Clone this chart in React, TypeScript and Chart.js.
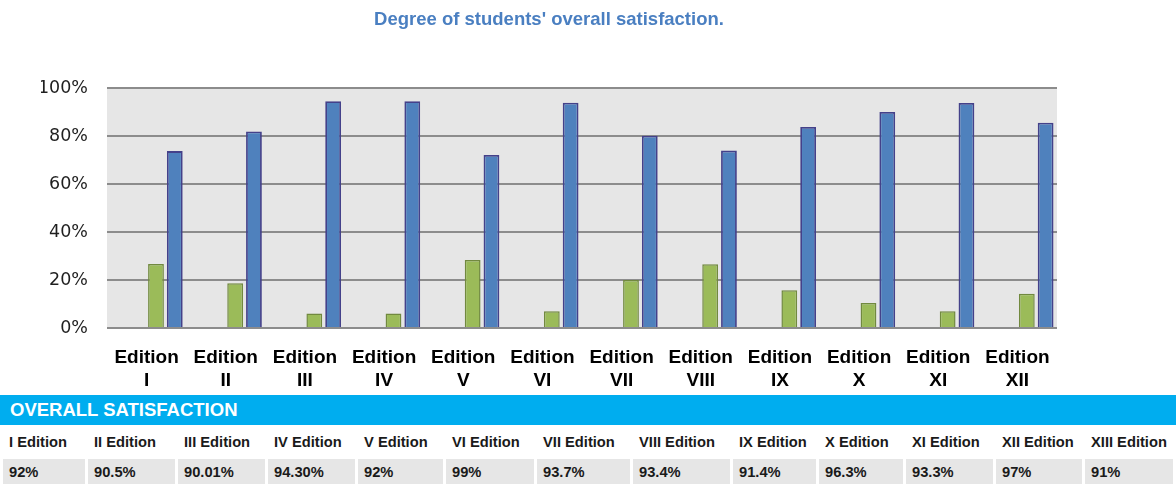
import React, { useEffect, useRef } from "react";
import { Chart, registerables } from "chart.js";

Chart.register(...registerables);

const chartTitle = "Degree of students' overall satisfaction.";
const editions = ["I", "II", "III", "IV", "V", "VI", "VII", "VIII", "IX", "X", "XI", "XII"];
const greenValues = [26.7, 18.7, 6, 6, 28.4, 7, 20, 26.6, 15.7, 10.4, 7, 14.3];
const blueValues = [73.8, 82, 94.6, 94.6, 72.2, 94, 80.2, 74, 83.9, 90.1, 93.9, 85.6];
const yMin = 0;
const yMax = 100;
const yStep = 20;

const tableTitle = "OVERALL SATISFACTION";
const tableEditions = [
  "I Edition", "II Edition", "III Edition", "IV Edition", "V Edition", "VI Edition",
  "VII Edition", "VIII Edition", "IX Edition", "X Edition", "XI Edition", "XII Edition", "XIII Edition",
];
const tableValues = ["92%", "90.5%", "90.01%", "94.30%", "92%", "99%", "93.7%", "93.4%", "91.4%", "96.3%", "93.3%", "97%", "91%"];
const tableColumnWidths = [85, 90, 90, 90, 88, 91, 96, 100, 86, 87, 90, 89, 91];

const plotBackground = {
  id: "plotBackground",
  beforeDraw(chart: any) {
    const { ctx, chartArea } = chart;
    if (!chartArea) return;
    ctx.save();
    ctx.fillStyle = "#e6e6e6";
    ctx.fillRect(chartArea.left, chartArea.top, chartArea.right - chartArea.left, chartArea.bottom - chartArea.top);
    ctx.restore();
  },
};

function BarChart() {
  const ref = useRef<HTMLCanvasElement | null>(null);
  useEffect(() => {
    if (!ref.current) return;
    const chart = new Chart(ref.current, {
      type: "bar",
      data: {
        labels: editions.map((e) => ["Edition", e]),
        datasets: [
          { label: "spacer1", data: [], backgroundColor: "transparent" },
          { label: "spacer2", data: [], backgroundColor: "transparent" },
          {
            label: "green",
            data: greenValues,
            backgroundColor: "#9bbb59",
            borderColor: "#71893f",
            borderWidth: 1.5,
          },
          {
            label: "blue",
            data: blueValues,
            backgroundColor: "#4f81bd",
            borderColor: "#44418a",
            borderWidth: 1.8,
          },
        ],
      },
      options: {
        responsive: false,
        animation: false,
        layout: { padding: { left: 41, right: 41, top: 0, bottom: 0 } },
        datasets: { bar: { categoryPercentage: 0.95, barPercentage: 0.84 } },
        plugins: {
          legend: { display: false },
          tooltip: { enabled: false },
          title: {
            display: true,
            text: chartTitle,
            color: "#4a7fc1",
            font: { family: "Liberation Sans", size: 18.5, weight: "bold", lineHeight: 1.2 },
            padding: { top: 9, bottom: 57.1 },
          },
        },
        scales: {
          x: {
            grid: { display: false, drawTicks: false },
            border: { display: false },
            ticks: {
              color: "#000",
              autoSkip: false,
              maxRotation: 0,
              padding: 18,
              font: { family: "Liberation Sans", size: 19, weight: "bold", lineHeight: 1.22 },
            },
            afterFit(s: any) {
              s.height = 64;
            },
          },
          y: {
            min: yMin,
            max: yMax,
            grid: { color: "#8c8c8c", lineWidth: 2, drawTicks: false },
            border: { display: false },
            ticks: {
              stepSize: yStep,
              color: "#1f1f1f",
              padding: 19,
              font: { family: "DejaVu Sans", size: 17.5 },
              callback: (v: any) => v + "%",
            },
            afterFit(s: any) {
              s.width = 66;
            },
          },
        },
      },
      plugins: [plotBackground],
    });
    return () => chart.destroy();
  }, []);
  return <canvas ref={ref} width={1098} height={392} style={{ position: "absolute", left: 0, top: 0 }} />;
}

export default function App() {
  const lefts: number[] = [];
  let acc = 3;
  for (const w of tableColumnWidths) {
    lefts.push(acc);
    acc += w;
  }
  const cellFont = { fontFamily: "Liberation Sans", fontWeight: "bold" as const, fontSize: 14.7 };
  return (
    <div style={{ position: "absolute", left: 0, top: 0, width: 1176, height: 484, background: "#fff", overflow: "hidden" }}>
      <BarChart />
      <div
        style={{
          position: "absolute",
          left: 0,
          top: 395,
          width: 1176,
          height: 29.5,
          background: "#00adef",
          color: "#fff",
          fontFamily: "Liberation Sans",
          fontWeight: "bold",
          fontSize: 18.5,
          lineHeight: "29.5px",
          paddingLeft: 10,
          boxSizing: "border-box",
        }}
      >
        {tableTitle}
      </div>
      {tableEditions.map((t, i) => (
        <div
          key={"h" + i}
          style={{
            position: "absolute",
            left: lefts[i],
            top: 429,
            width: tableColumnWidths[i] - 3,
            height: 26,
            lineHeight: "26px",
            paddingLeft: 6,
            boxSizing: "border-box",
            color: "#1a1a1a",
            whiteSpace: "nowrap",
            ...cellFont,
          }}
        >
          {t}
        </div>
      ))}
      {tableValues.map((t, i) => (
        <div
          key={"v" + i}
          style={{
            position: "absolute",
            left: lefts[i],
            top: 459,
            width: tableColumnWidths[i] - 3,
            height: 27,
            lineHeight: "27px",
            paddingLeft: 6,
            boxSizing: "border-box",
            background: "#e6e6e6",
            color: "#1a1a1a",
            whiteSpace: "nowrap",
            ...cellFont,
          }}
        >
          {t}
        </div>
      ))}
    </div>
  );
}
